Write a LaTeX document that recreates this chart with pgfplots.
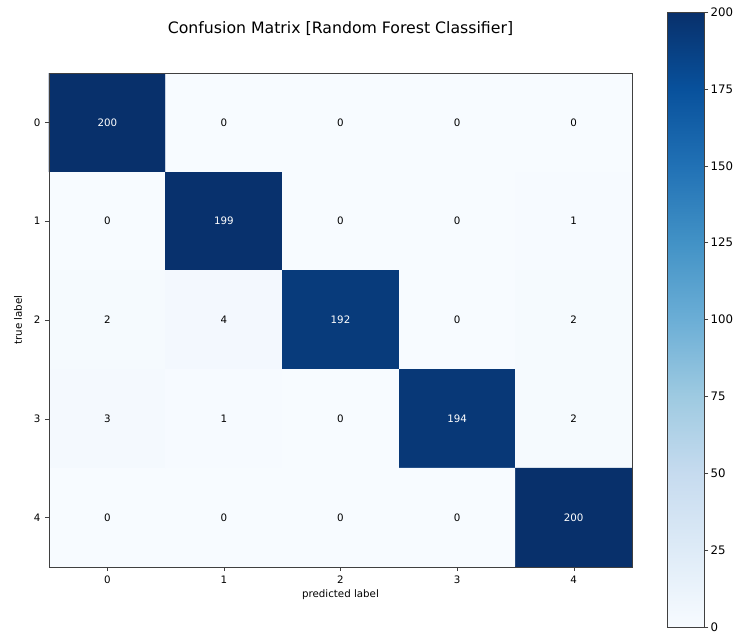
\documentclass[border=0pt]{standalone}
\usepackage{pgfplots}
\pgfplotsset{compat=1.18}
\usepackage{fontspec}
\setmainfont{DejaVu Sans}

\pgfplotsset{
  /pgf/number format/assume math mode=true,
  colormap={blues}{rgb255=(247,251,255) rgb255=(222,235,247) rgb255=(198,219,239)
    rgb255=(158,202,225) rgb255=(107,174,214) rgb255=(66,146,198) rgb255=(33,113,181)
    rgb255=(8,81,156) rgb255=(8,48,107)},
}
\newcommand{\smallfont}{\fontsize{7.7}{9}\selectfont}

\begin{document}
\begin{tikzpicture}
\begin{axis}[
  name=main,
  axis on top,
  scale only axis,
  width=437.25pt, height=370.5pt,
  xmin=-0.5, xmax=4.5, ymin=-0.5, ymax=4.5,
  y dir=reverse,
  xtick={0,...,4}, ytick={0,...,4},
  tick pos=left, tick align=outside,
  major tick length=3pt,
  axis line style={black!75},
  tick style={black!75},
  tick label style={font=\smallfont},
  label style={font=\smallfont},
  title={Confusion Matrix [Random Forest Classifier]},
  title style={font=\fontsize{11.8}{14}\selectfont, at={(axis description cs:0.5,1)}, anchor=center, yshift=27pt},
  xlabel={predicted label},
  xlabel style={at={(axis description cs:0.5,0)}, anchor=center, yshift=-21pt},
  ylabel={true label},
  ylabel style={at={([xshift=-23.25pt]axis description cs:0,0.5)}, anchor=center},
  colormap name=blues,
  point meta min=0, point meta max=200,
  colorbar,
  colorbar/width=27.75pt,
  colorbar style={
    at={(parent axis.north east)}, anchor=north west,
    xshift=18pt, yshift=45.75pt,
    scale only axis,
    width=27.75pt, height=461.25pt,
    y dir=normal,
    ytick={0,25,...,200},
    ytick pos=right, tick align=outside,
    major tick length=3pt,
    axis line style={black!75},
    tick style={black!75},
    tick label style={font=\fontsize{8.8}{10}\selectfont},
    yticklabel style={inner sep=1.5pt},
  },
]
\addplot[matrix plot*, mesh/cols=5, point meta=explicit] table[meta=C] {
x y C
0 0 200
1 0 0
2 0 0
3 0 0
4 0 0
0 1 0
1 1 199
2 1 0
3 1 0
4 1 1
0 2 2
1 2 4
2 2 192
3 2 0
4 2 2
0 3 3
1 3 1
2 3 0
3 3 194
4 3 2
0 4 0
1 4 0
2 4 0
3 4 0
4 4 200
};
% counts on the dark cells
\addplot[draw=none, mark=none, nodes near coords, point meta=explicit symbolic,
  nodes near coords style={anchor=center, font=\smallfont, text=white}] table[meta=C] {
x y C
0 0 200
1 1 199
2 2 192
3 3 194
4 4 200
};
% counts on the light cells
\addplot[draw=none, mark=none, nodes near coords, point meta=explicit symbolic,
  nodes near coords style={anchor=center, font=\smallfont, text=black}] table[meta=C] {
x y C
1 0 0
2 0 0
3 0 0
4 0 0
0 1 0
2 1 0
3 1 0
4 1 1
0 2 2
1 2 4
3 2 0
4 2 2
0 3 3
1 3 1
2 3 0
4 3 2
0 4 0
1 4 0
2 4 0
3 4 0
};
\end{axis}
\pgfresetboundingbox
\path ([xshift=-36.75pt,yshift=-49.5pt]main.south west) rectangle ([xshift=79.5pt,yshift=54.75pt]main.north east);
\end{tikzpicture}
\end{document}
